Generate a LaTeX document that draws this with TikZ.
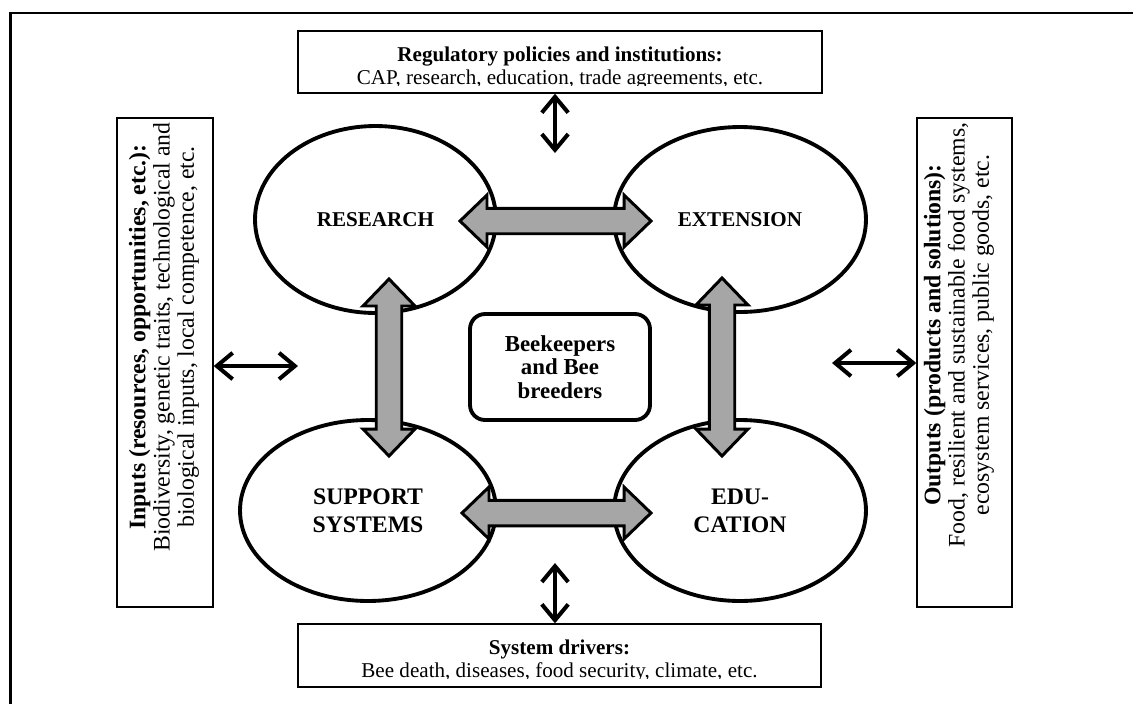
\documentclass[tikz,border=0pt]{standalone}
\usepackage{fontspec}
\setmainfont{Liberation Serif}
\usetikzlibrary{calc,arrows.meta,shapes.geometric}

% sizes of the grey double arrows
\newcommand{\fatHL}{0.54cm}
\newcommand{\fatHW}{0.52cm}
\newcommand{\fatSW}{0.255cm}
\newcommand{\fatarrow}[2]{%
  \draw[fatarrow] (#1)
    -- ($(#1)!\fatHL!(#2)!\fatHW!90:(#2)$)
    -- ($(#1)!\fatHL!(#2)!\fatSW!90:(#2)$)
    -- ($(#2)!\fatHL!(#1)!\fatSW!-90:(#1)$)
    -- ($(#2)!\fatHL!(#1)!\fatHW!-90:(#1)$)
    -- (#2)
    -- ($(#2)!\fatHL!(#1)!\fatHW!90:(#1)$)
    -- ($(#2)!\fatHL!(#1)!\fatSW!90:(#1)$)
    -- ($(#1)!\fatHL!(#2)!\fatSW!-90:(#2)$)
    -- ($(#1)!\fatHL!(#2)!\fatHW!-90:(#2)$)
    -- cycle;}

\begin{document}
\begin{tikzpicture}[
    x=0.02cm, y=-0.02cm,
    field/.style={ellipse, draw, line width=2.2pt, inner sep=0pt, align=center, font=\fontsize{12}{14}\selectfont\bfseries},
    bigfield/.style={field, font=\fontsize{13.5}{16}\selectfont\bfseries},
    actor/.style={rectangle, rounded corners=0.3cm, draw, line width=2.2pt, minimum width=3.6cm, minimum height=2.12cm, align=center, font=\fontsize{13}{13.4}\selectfont\bfseries},
    infobox/.style={rectangle, draw, line width=0.8pt, inner sep=0pt},
    boxtitle/.style={anchor=base, inner sep=0pt, font=\fontsize{12}{14}\selectfont\bfseries},
    boxtext/.style={anchor=base, inner sep=0pt, font=\fontsize{12}{14}\selectfont},
    sidetext/.style={rotate=90, align=center, inner sep=0pt, font=\fontsize{13.5}{13.8}\selectfont},
    link/.style={{Straight Barb[length=9pt,width=15pt]}-{Straight Barb[length=9pt,width=15pt]}, line width=2.3pt},
    fatarrow/.style={draw, line width=1.7pt, fill=gray!70, line join=miter}
]
\useasboundingbox (0,0) rectangle (1133,704);

% Frame
\draw[line width=1.7pt] (10.5,704) -- (10.5,13) -- (1133,13);

% Fields
\node[field, minimum width=4.82cm, minimum height=3.74cm] (res) at (375.5,219.5) {RESEARCH};
\node[field, minimum width=5.04cm, minimum height=3.70cm] (ext) at (740,219.5) {EXTENSION};
\node[bigfield, minimum width=5.12cm, minimum height=3.62cm] (sup) at (368,510.5) {SUPPORT\\SYSTEMS};
\node[bigfield, minimum width=5.04cm, minimum height=3.62cm] (edu) at (740,510.5) {EDU-\\CATION};

% Grey double arrows between the fields
\coordinate (resE) at (460,221);
\coordinate (extW) at (651,221);
\coordinate (supE) at (462,513);
\coordinate (eduW) at (651,513);
\coordinate (resS) at (389,279);
\coordinate (supN) at (389,456);
\coordinate (extS) at (722,278);
\coordinate (eduN) at (722,456);
\fatarrow{resE}{extW}
\fatarrow{supE}{eduW}
\fatarrow{resS}{supN}
\fatarrow{extS}{eduN}

% Centre
\node[actor] (bee) at (560,367) {Beekeepers\\and Bee\\breeders};

% Top box
\node[infobox, minimum width=10.48cm, minimum height=1.24cm] (reg) at (560,62) {};
\node[boxtitle] (regtitle) at (560,61) {Regulatory policies and institutions:};
\begin{scope}
  \clip (reg.north west) rectangle ($(reg.south east)+(0,-8)$);
  \node[boxtext] (regtext) at (560,84) {CAP, research, education, trade agreements, etc.};
\end{scope}

% Bottom box
\node[infobox, minimum width=10.46cm, minimum height=1.26cm] (drv) at (559.5,655.5) {};
\node[boxtitle] (drvtitle) at (559.5,654) {System drivers:};
\begin{scope}
  \clip (drv.north west) rectangle ($(drv.south east)+(0,-9)$);
  \node[boxtext] (drvtext) at (559.5,677) {Bee death, diseases, food security, climate, etc.};
\end{scope}

% Side boxes
\node[infobox, minimum width=1.92cm, minimum height=9.78cm] (inp) at (165,362.5) {};
\node[sidetext] (inptext) at (164,337) {\textbf{Inputs (resources, opportunities, etc.):}\\Biodiversity, genetic traits, technological and\\biological inputs, local competence, etc.};
\node[infobox, minimum width=1.9cm, minimum height=9.78cm] (out) at (964.5,362.5) {};
\node[sidetext] (outtext) at (959,335) {\textbf{Outputs (products and solutions):}\\Food, resilient and sustainable food systems,\\ecosystem services, public goods, etc.};

% Thin double arrows
\coordinate (regtip) at (555,153);
\coordinate (drvtip) at (555,563);
\coordinate (inptip) at (298,366);
\coordinate (outtip) at (832,363);
\draw[link] (reg.south -| regtip) -- (regtip);
\draw[link] (drv.north -| drvtip) -- (drvtip);
\draw[link] (inp.east |- inptip) -- (inptip);
\draw[link] (out.west |- outtip) -- (outtip);

\end{tikzpicture}
\end{document}
